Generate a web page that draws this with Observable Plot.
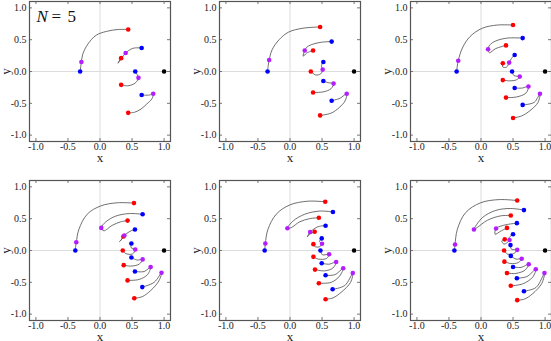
<!DOCTYPE html>
<html><head><meta charset="utf-8">
<script src="https://cdn.jsdelivr.net/npm/d3@7"></script>
<script src="https://cdn.jsdelivr.net/npm/@observablehq/plot@0.6"></script>
<style>
html,body{margin:0;padding:0;background:#fff;overflow:hidden;}
#wrap{position:relative;width:551px;height:341px;overflow:hidden;}
.panel{position:absolute;width:181px;height:171px;}
.panel svg{max-width:none !important;}
</style></head><body><div id="wrap"></div>
<script>
const xTicks = [-1, -0.5, 0, 0.5, 1];
const yTicks = [-1, -0.5, 0, 0.5, 1];
const zeroLines = [0];
const sink = [[1, 0]];

// Panel A (N = 5)
const blueA = [[-0.31,0],[0.65,0.37],[0.55,0],[0.65,-0.37]];
const purpleA = [[-0.29,0.15],[0.40,0.29],[0.60,-0.10],[0.83,-0.35]];
const redA = [[0.44,0.66],[0.33,0.21],[0.33,-0.21],[0.44,-0.65]];
const curvesA = [
 [[-0.31,0],[-0.30,0.08],[-0.29,0.15],[-0.27,0.27],[-0.19,0.43],[-0.06,0.57],[0.10,0.63],[0.28,0.66],[0.44,0.66]],
 [[0.65,0.37],[0.54,0.37],[0.48,0.35],[0.40,0.29],[0.33,0.20],[0.28,0.13],[0.31,0.18],[0.33,0.21]],
 [[0.55,0],[0.58,-0.05],[0.60,-0.10],[0.57,-0.16],[0.52,-0.20],[0.43,-0.225],[0.33,-0.21]],
 [[0.65,-0.37],[0.77,-0.37],[0.83,-0.35],[0.81,-0.43],[0.73,-0.51],[0.64,-0.59],[0.54,-0.64],[0.44,-0.65]]
];

// Panel B
const blueB = [[-0.35,0],[0.65,0.47],[0.52,0.15],[0.52,-0.15],[0.65,-0.46]];
const purpleB = [[-0.325,0.18],[0.23,0.33],[0.51,0.03],[0.68,-0.19],[0.885,-0.35]];
const redB = [[0.47,0.70],[0.36,0.33],[0.325,0],[0.36,-0.33],[0.47,-0.69]];
const curvesB = [
 [[-0.35,0],[-0.34,0.09],[-0.325,0.18],[-0.28,0.34],[-0.17,0.50],[-0.02,0.62],[0.20,0.68],[0.47,0.70]],
 [[0.65,0.47],[0.49,0.46],[0.33,0.42],[0.26,0.38],[0.23,0.33],[0.205,0.24],[0.26,0.29],[0.36,0.33]],
 [[0.52,0.15],[0.49,0.09],[0.51,0.03],[0.48,-0.035],[0.40,-0.055],[0.325,0]],
 [[0.52,-0.15],[0.605,-0.178],[0.68,-0.19],[0.64,-0.27],[0.52,-0.32],[0.36,-0.33]],
 [[0.65,-0.46],[0.78,-0.42],[0.885,-0.35],[0.86,-0.46],[0.77,-0.565],[0.64,-0.655],[0.47,-0.69]]
];

// Panel C
const blueC = [[-0.38,0],[0.65,0.525],[0.525,0.26],[0.485,0],[0.525,-0.26],[0.65,-0.525]];
const purpleC = [[-0.355,0.17],[0.11,0.35],[0.44,0.14],[0.605,-0.08],[0.74,-0.235],[0.92,-0.35]];
const redC = [[0.50,0.73],[0.39,0.41],[0.34,0.13],[0.34,-0.135],[0.39,-0.41],[0.50,-0.73]];
const curvesC = [
 [[-0.38,0],[-0.37,0.085],[-0.355,0.17],[-0.29,0.37],[-0.17,0.55],[0.02,0.68],[0.255,0.73],[0.50,0.73]],
 [[0.65,0.525],[0.41,0.525],[0.23,0.48],[0.14,0.42],[0.11,0.35],[0.13,0.295],[0.23,0.36],[0.39,0.41]],
 [[0.525,0.26],[0.475,0.205],[0.44,0.14],[0.40,0.07],[0.34,0.07],[0.34,0.13]],
 [[0.485,0],[0.515,-0.065],[0.605,-0.08],[0.555,-0.13],[0.44,-0.147],[0.34,-0.135]],
 [[0.525,-0.26],[0.645,-0.26],[0.74,-0.235],[0.70,-0.34],[0.555,-0.40],[0.39,-0.41]],
 [[0.65,-0.525],[0.83,-0.485],[0.92,-0.35],[0.89,-0.485],[0.765,-0.615],[0.63,-0.70],[0.50,-0.73]]
];

// Panel D
const blueD = [[-0.385,0],[0.665,0.57],[0.545,0.33],[0.49,0.11],[0.49,-0.11],[0.545,-0.33],[0.66,-0.575]];
const purpleD = [[-0.37,0.13],[0.02,0.355],[0.38,0.235],[0.55,0.015],[0.665,-0.14],[0.79,-0.26],[0.96,-0.35]];
const redD = [[0.53,0.745],[0.43,0.47],[0.365,0.22],[0.355,0],[0.37,-0.23],[0.43,-0.47],[0.535,-0.75]];
const curvesD = [
 [[-0.385,0],[-0.38,0.065],[-0.37,0.13],[-0.33,0.33],[-0.20,0.57],[0.01,0.70],[0.27,0.75],[0.53,0.745]],
 [[0.665,0.57],[0.45,0.58],[0.245,0.54],[0.09,0.45],[0.02,0.355],[0.06,0.31],[0.19,0.395],[0.32,0.45],[0.43,0.47]],
 [[0.545,0.33],[0.465,0.30],[0.38,0.235],[0.325,0.16],[0.305,0.14],[0.34,0.18],[0.365,0.22]],
 [[0.49,0.11],[0.485,0.045],[0.55,0.015],[0.505,-0.055],[0.40,-0.047],[0.355,0]],
 [[0.49,-0.11],[0.58,-0.15],[0.665,-0.14],[0.61,-0.215],[0.48,-0.245],[0.37,-0.23]],
 [[0.545,-0.33],[0.69,-0.33],[0.79,-0.26],[0.74,-0.38],[0.61,-0.455],[0.43,-0.47]],
 [[0.66,-0.575],[0.845,-0.50],[0.96,-0.35],[0.92,-0.475],[0.79,-0.63],[0.66,-0.725],[0.535,-0.75]]
];

// Panel E
const blueE = [[-0.395,0],[0.67,0.605],[0.555,0.39],[0.495,0.19],[0.475,0],[0.495,-0.20],[0.555,-0.39],[0.665,-0.61]];
const purpleE = [[-0.385,0.11],[-0.04,0.35],[0.315,0.29],[0.50,0.105],[0.61,-0.06],[0.72,-0.18],[0.83,-0.28],[0.98,-0.355]];
const redE = [[0.55,0.765],[0.45,0.515],[0.385,0.295],[0.365,0.10],[0.365,-0.10],[0.39,-0.30],[0.45,-0.515],[0.555,-0.765]];
const curvesE = [
 [[-0.395,0],[-0.39,0.055],[-0.385,0.11],[-0.345,0.33],[-0.215,0.57],[-0.005,0.715],[0.28,0.775],[0.55,0.765]],
 [[0.67,0.605],[0.465,0.62],[0.23,0.57],[0.05,0.465],[-0.04,0.35],[0.02,0.36],[0.15,0.45],[0.305,0.50],[0.45,0.515]],
 [[0.555,0.39],[0.44,0.375],[0.315,0.29],[0.27,0.215],[0.32,0.265],[0.385,0.295]],
 [[0.495,0.19],[0.46,0.14],[0.50,0.105],[0.455,0.057],[0.385,0.063],[0.365,0.10]],
 [[0.475,0],[0.505,-0.068],[0.61,-0.06],[0.57,-0.125],[0.44,-0.135],[0.365,-0.10]],
 [[0.495,-0.20],[0.61,-0.215],[0.72,-0.18],[0.67,-0.275],[0.54,-0.32],[0.39,-0.30]],
 [[0.555,-0.39],[0.70,-0.38],[0.83,-0.28],[0.775,-0.40],[0.645,-0.50],[0.45,-0.515]],
 [[0.665,-0.61],[0.855,-0.55],[0.98,-0.355],[0.945,-0.50],[0.80,-0.655],[0.67,-0.745],[0.555,-0.765]]
];

// Panel F
const blueF = [[-0.415,0],[0.67,0.635],[0.56,0.43],[0.50,0.255],[0.46,0.085],[0.465,-0.085],[0.50,-0.26],[0.56,-0.435],[0.67,-0.64]];
const purpleF = [[-0.405,0.095],[-0.11,0.33],[0.235,0.345],[0.445,0.165],[0.565,0.01],[0.635,-0.13],[0.745,-0.215],[0.855,-0.295],[0.99,-0.355]];
const redF = [[0.565,0.785],[0.465,0.55],[0.405,0.355],[0.37,0.175],[0.36,0],[0.365,-0.175],[0.405,-0.355],[0.465,-0.555],[0.565,-0.78]];
const curvesF = [
 [[-0.415,0],[-0.41,0.05],[-0.405,0.095],[-0.37,0.33],[-0.24,0.595],[-0.005,0.75],[0.285,0.80],[0.565,0.785]],
 [[0.67,0.635],[0.465,0.66],[0.23,0.63],[0.02,0.515],[-0.11,0.33],[-0.06,0.36],[0.10,0.475],[0.31,0.545],[0.465,0.55]],
 [[0.56,0.43],[0.415,0.41],[0.30,0.38],[0.235,0.345],[0.22,0.255],[0.31,0.305],[0.405,0.355]],
 [[0.50,0.255],[0.44,0.205],[0.445,0.165],[0.36,0.10],[0.325,0.15],[0.37,0.175]],
 [[0.46,0.085],[0.475,0.02],[0.565,0.01],[0.51,-0.047],[0.415,-0.057],[0.36,0]],
 [[0.465,-0.085],[0.545,-0.135],[0.635,-0.13],[0.58,-0.19],[0.465,-0.205],[0.365,-0.175]],
 [[0.50,-0.26],[0.625,-0.265],[0.745,-0.215],[0.685,-0.31],[0.545,-0.36],[0.405,-0.355]],
 [[0.56,-0.435],[0.715,-0.41],[0.855,-0.295],[0.805,-0.42],[0.65,-0.525],[0.465,-0.555]],
 [[0.67,-0.64],[0.86,-0.58],[0.99,-0.355],[0.95,-0.515],[0.805,-0.68],[0.675,-0.765],[0.565,-0.78]]
];

const panels = [
  {blue: blueA, purple: purpleA, red: redA, curves: curvesA, left: 0, top: 0, label: true},
  {blue: blueB, purple: purpleB, red: redB, curves: curvesB, left: 190, top: 0},
  {blue: blueC, purple: purpleC, red: redC, curves: curvesC, left: 381, top: 0},
  {blue: blueD, purple: purpleD, red: redD, curves: curvesD, left: 0, top: 179},
  {blue: blueE, purple: purpleE, red: redE, curves: curvesE, left: 190, top: 179},
  {blue: blueF, purple: purpleF, red: redF, curves: curvesF, left: 381, top: 179}
];

const FONT = "'Liberation Serif', 'DejaVu Serif', serif";
const W = 181, H = 171, ML = 29, MR = 11, MT = 1, MB = 30;
const FH = H - MT - MB, FW = W - ML - MR;

function makePanel(p) {
  const pts = p.curves.flatMap((c, i) => c.map(q => ({x: q[0], y: q[1], id: i})));
  const px = d => d[0], py = d => d[1];
  const marks = [
    Plot.ruleX(zeroLines, {x: d => d, stroke: "#dcdcdc", strokeWidth: 1}),
    Plot.ruleY(zeroLines, {y: d => d, stroke: "#dcdcdc", strokeWidth: 1}),
    Plot.tickX(xTicks, {x: d => d, insetTop: FH - 3, stroke: "#777"}),
    Plot.tickX(xTicks, {x: d => d, insetBottom: FH - 3, stroke: "#777"}),
    Plot.tickY(yTicks, {y: d => d, insetRight: FW - 3, stroke: "#777"}),
    Plot.tickY(yTicks, {y: d => d, insetLeft: FW - 3, stroke: "#777"}),
    Plot.axisX(xTicks, {tickSize: 0, tickPadding: 1, tickFormat: d => d.toFixed(1), label: null, fontSize: 10, fill: "#222"}),
    Plot.axisY(yTicks, {tickSize: 0, tickPadding: 3, tickFormat: d => d.toFixed(1), label: null, fontSize: 10, fill: "#222"}),
    Plot.text(["x"], {text: d => d, frameAnchor: "bottom", dy: 16, lineAnchor: "middle", fontSize: 13, fill: "#222"}),
    Plot.text(["y"], {text: d => d, frameAnchor: "left", dx: -24, textAnchor: "middle", lineAnchor: "middle", rotate: -90, fontSize: 13, fill: "#222"}),
    Plot.line(pts, {x: "x", y: "y", z: "id", curve: "catmull-rom", stroke: "#4a4a4a", strokeWidth: 0.8}),
    Plot.dot(p.blue, {x: px, y: py, r: 2.3, fill: "#0000ff"}),
    Plot.dot(p.red, {x: px, y: py, r: 2.3, fill: "#ff0000"}),
    Plot.dot(p.purple, {x: px, y: py, r: 2.3, fill: "#b41eff"}),
    Plot.dot(sink, {x: px, y: py, r: 2.3, fill: "#000"}),
    Plot.frame({stroke: "#555", strokeWidth: 1.2})
  ];
  if (p.label) {
    marks.push(
      Plot.text(["N"], {text: d => d, frameAnchor: "top-left", dx: 7, dy: 8, fontSize: 17, fontStyle: "italic", fill: "#111"}),
      Plot.text(["="], {text: d => d, frameAnchor: "top-left", dx: 22, dy: 8, fontSize: 17, fill: "#111"}),
      Plot.text(["5"], {text: d => d, frameAnchor: "top-left", dx: 38, dy: 8, fontSize: 17, fill: "#111"})
    );
  }
  return Plot.plot({
    width: W, height: H,
    marginLeft: ML, marginRight: MR, marginTop: MT, marginBottom: MB,
    x: {domain: [-1.1, 1.1]},
    y: {domain: [-1.1, 1.1]},
    style: {fontFamily: FONT, fontSize: "10px", background: "transparent", overflow: "visible", maxWidth: "none"},
    marks
  });
}

const wrap = document.getElementById("wrap");
for (const p of panels) {
  const div = document.createElement("div");
  div.className = "panel";
  div.style.left = p.left + "px";
  div.style.top = p.top + "px";
  div.appendChild(makePanel(p));
  wrap.appendChild(div);
}
</script>
</body></html>
